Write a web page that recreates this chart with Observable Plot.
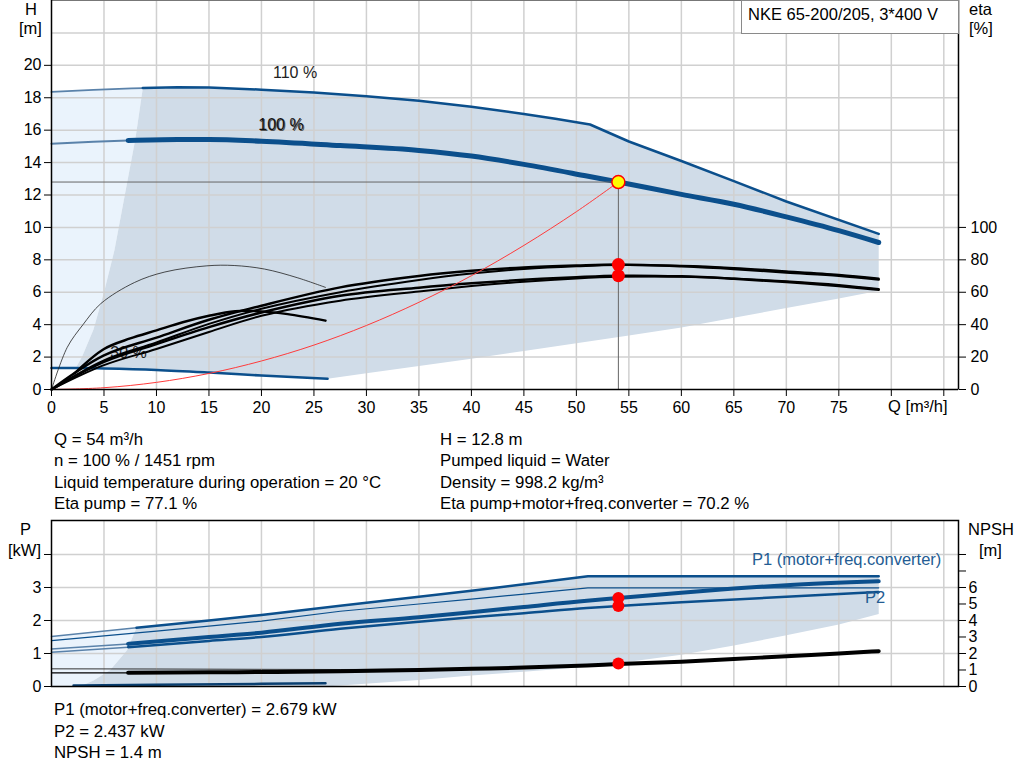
<!DOCTYPE html>
<html><head><meta charset="utf-8">
<script src="https://cdn.jsdelivr.net/npm/d3@7"></script>
<script src="https://cdn.jsdelivr.net/npm/@observablehq/plot@0.6"></script>
<style>
body{margin:0;background:#fff;font-family:"Liberation Sans",Arial,sans-serif;}
#wrap{position:relative;width:1024px;height:781px;overflow:hidden;background:#fff;}
.t{position:absolute;color:#000;white-space:nowrap;line-height:1;}
.plot{position:absolute;left:0;}
.legbox{position:absolute;left:741px;top:0;width:216px;height:32px;border:1px solid #8a8a8a;background:#fff;box-sizing:content-box;}
</style></head><body><div id="wrap"></div>
<script>
// ---------- tick values ----------
const Q_TICKS = [0,5,10,15,20,25,30,35,40,45,50,55,60,65,70,75,80,85];
const Q_GRID = [5,10,15,20,25,30,35,40,45,50,55,60,65,70,75,80,85];
const H_TICKS = [0,2,4,6,8,10,12,14,16,18,20];
const H_GRID = [2,4,6,8,10,12,14,16,18,20,22];
const ETA_TICKS = [0,20,40,60,80,100];
const P_TICKS = [0,1,2,3,4];
const P_GRID = [1,2,3,4];
const NPSH_TICKS = [0,1,2,3,4,5,6,7,8];

// ---------- operating point ----------
const opQ = 54, opH = 12.8, opEtaPump = 77.1, opEtaTot = 70.2, opP1 = 2.679, opP2 = 2.437, opNPSH = 1.4;

// ---------- head curves [Q m3/h, H m] ----------
const head110 = [[0,18.36],[4,18.48],[8.7,18.6],[12,18.65],[15,18.63],[20,18.5],[25,18.33],[30,18.1],[35,17.82],[40,17.45],[45,17.0],[48,16.7],[51.3,16.35],[55,15.3],[60,14.1],[65,12.86],[70,11.6],[78.8,9.6]];
const head100 = [[0,15.16],[4,15.28],[7.3,15.36],[12,15.42],[15,15.42],[20,15.32],[27.5,15.05],[35,14.75],[40,14.4],[45,13.89],[51,13.17],[54,12.8],[60,12.04],[65,11.43],[70,10.65],[75,9.8],[78.8,9.07]];
const head30 = [[0,1.33],[2.3,1.33],[5,1.3],[10,1.21],[15,1.05],[20,0.86],[26.3,0.66]];
const minFlowH = [[2.3,1.33],[2.9,2],[4,3.7],[5,6],[6,8.6],[7.1,12.4],[8,15.5],[8.7,18.6]];
const lowerH = [[26.3,0.66],[30,1.0],[35,1.45],[40,1.9],[45,2.38],[50,2.85],[55,3.33],[60,3.83],[65,4.42],[70,5.03],[75,5.62],[78.8,6.09]];
const systemCurve = [[0,0],[5,0.11],[10,0.44],[15,0.99],[20,1.76],[25,2.74],[30,3.95],[35,5.38],[40,7.02],[45,8.89],[50,10.97],[54,12.8]];

// ---------- efficiency curves [Q m3/h, eta %] ----------
const etaPumpA = [[0,0],[5,21],[10,32],[15,43],[20,51.7],[27.5,63],[35,70],[40,73.2],[45,75.3],[50,76.5],[54,77.1],[60,76],[65,74.4],[70,72.2],[75,70.2],[78.8,67.8]];
const etaPumpB = [[0,0],[5,18],[10,29],[15,40.5],[20,49.8],[27.5,60],[35,67.5],[40,71.5],[45,74.3],[50,76],[54,76.8],[60,76.3],[65,75],[70,73],[75,70.8],[78.8,68.5]];
const etaTotC = [[0,0],[5,17],[10,28],[15,38.5],[20,47.5],[27.5,57.8],[35,62.8],[40,65.5],[45,67.7],[50,69.3],[54,70.2],[60,69.8],[65,68.3],[70,66.3],[75,63.8],[78.8,61.5]];
const etaTotD = [[0,0],[5,15],[10,25],[15,35.5],[20,45.5],[27.5,54.8],[35,60.5],[40,63.8],[45,66.5],[50,68.5],[54,69.5],[60,69.6],[65,68.5],[70,66.8],[75,64.5],[78.8,62]];
const etaPump30 = [[0,0],[1.5,26],[3,40],[4.7,53],[7.9,66],[10.8,72.5],[14.8,76.3],[17.4,76.5],[20.3,74.3],[23.4,69],[26.1,63]];
const etaTot30 = [[2.2,10],[5,25],[7.5,31.5],[10,36.5],[12.5,41.5],[15,45.5],[17.5,48.3],[20,48.2],[22.5,46.5],[26.1,42.5]];

// ---------- power curves [Q m3/h, P kW] ----------
const p1_110 = [[0,1.515],[8.1,1.78],[15,2.0],[20,2.17],[27.5,2.45],[35,2.72],[40,2.9],[45,3.1],[51.1,3.34],[60,3.34],[70,3.34],[78.8,3.34]];
const p2_110 = [[0,1.39],[10,1.68],[20,1.98],[27.5,2.28],[35,2.5],[40,2.65],[45,2.8],[51.1,2.99],[60,2.99],[70,2.99],[78.8,2.99]];
const p1_100 = [[0,1.14],[7.3,1.29],[15,1.5],[20,1.63],[27.5,1.9],[35,2.1],[40,2.25],[45,2.41],[51,2.6],[54,2.679],[60,2.84],[65,2.97],[70,3.07],[78.8,3.19]];
const p2_100 = [[0,1.04],[7.3,1.19],[15,1.38],[20,1.5],[27.5,1.75],[35,1.96],[40,2.1],[45,2.22],[51,2.38],[54,2.437],[60,2.55],[70,2.72],[78.8,2.86]];
const p_30 = [[2.1,0.03],[10,0.05],[20,0.08],[26.1,0.1]];
const minFlowP = [[2.7,0],[4,0.18],[5.6,0.5],[7.2,1.1],[8.1,1.78]];
const lowerP = [[26,0],[27.5,0.03],[35,0.2],[40,0.33],[45,0.45],[51,0.6],[55,0.75],[60,0.96],[65,1.24],[70,1.55],[75,1.88],[78.8,2.2]];

// ---------- NPSH curves [Q m3/h, NPSH m] ----------
const npsh100 = [[0,0.82],[7.3,0.83],[15,0.86],[20,0.88],[27.5,0.92],[35,1.0],[40,1.07],[45,1.15],[51,1.28],[54,1.36],[60,1.5],[65,1.66],[70,1.84],[75,2.0],[78.8,2.14]];
const npsh110 = [[0,1.07],[10,1.06],[20,1.04],[27.5,1.03],[35,1.05],[40,1.1],[45,1.17],[51,1.29],[60,1.5],[70,1.85],[78.8,2.15]];

// ---------- texts ----------
const title = "NKE 65-200/205, 3*400 V";
const infoLeft = ["Q = 54 m³/h","n = 100 % / 1451 rpm","Liquid temperature during operation = 20 °C","Eta pump = 77.1 %"];
const infoRight = ["H = 12.8 m","Pumped liquid = Water","Density = 998.2 kg/m³","Eta pump+motor+freq.converter = 70.2 %"];
const infoBottom = ["P1 (motor+freq.converter) = 2.679 kW","P2 = 2.437 kW","NPSH = 1.4 m"];
const curveLabels = [{t:"110 %", q:21.1, h:19.55},{t:"30 %", q:5.6, h:2.28}];
const label100 = [{t:"100 %", q:19.7, h:16.3}];

// ---------- styling ----------
const BLUE = "#0b4f8c", THIN = "#5a82aa", DARK = "#d0dce8", LIGHT = "#eaf3fc", GRID = "#d0d0d0";
const X = d => d[0], Y = d => d[1];
const font = {fontSize:"16px", fontFamily:"'Liberation Sans', Arial, sans-serif", color:"black", background:"transparent", overflow:"visible"};
const qDomain = [0, 86.4];
const smooth = "monotone-x";
const thick = (arr, lim) => arr.filter(d => d[0] >= lim);
const thin = (arr, lim) => arr.filter(d => d[0] <= lim);

// shaded regions (built from the boundary arrays)
const darkTop = [...minFlowH, ...head110.filter(d=>d[0]>8.7), ...lowerH.slice().reverse(), ...head30.filter(d=>d[0]>2.3 && d[0]<26.3).reverse()];
const lightTop = [[0,1.33], ...thin(head110, 8.7), ...minFlowH.slice().reverse()];
const darkBot = [...minFlowP, ...p1_110.filter(d=>d[0]>8.1), ...lowerP.slice().reverse()];
const lightBot = [[0,0], ...thin(p1_110, 8.1), ...minFlowP.slice().reverse()];

const eta = d => d[1]/10;   // eta % on the H scale (100 % = 10 m)
const np = d => d[1]/2;     // NPSH m on the P scale (6 m = 3 kW)

const topPlot = Plot.plot({
  width:1024, height:420, marginLeft:51, marginRight:66, marginTop:0, marginBottom:31,
  x:{domain:qDomain}, y:{domain:[0,24]}, style:font,
  marks:[
    Plot.line(lightTop,{x:X,y:Y,fill:LIGHT,stroke:"none"}),
    Plot.line(darkTop,{x:X,y:Y,fill:DARK,stroke:"none"}),
    Plot.gridX(Q_GRID,{stroke:GRID,strokeOpacity:1,strokeWidth:1.5}),
    Plot.gridY(H_GRID,{stroke:GRID,strokeOpacity:1,strokeWidth:1.5}),
    Plot.frame({stroke:"#777"}),
    // head curves
    Plot.line(thin(head110,8.7),{x:X,y:Y,stroke:THIN,strokeWidth:1.8,curve:smooth}),
    Plot.line(thick(head110,8.7),{x:X,y:Y,stroke:BLUE,strokeWidth:2.5,curve:"linear"}),
    Plot.line(thin(head100,7.3),{x:X,y:Y,stroke:THIN,strokeWidth:2,curve:smooth}),
    Plot.line(thick(head100,7.3),{x:X,y:Y,stroke:BLUE,strokeWidth:5,curve:smooth}),
    Plot.line(head30,{x:X,y:Y,stroke:BLUE,strokeWidth:2.5,curve:smooth}),
    // labels
    Plot.text(curveLabels,{x:"q",y:"h",text:"t",textAnchor:"start",fill:"#222",fontSize:16}),
    Plot.text(label100,{x:"q",y:"h",text:"t",textAnchor:"start",fill:"#555",fontSize:16,dx:1,dy:1}),
    Plot.text(label100,{x:"q",y:"h",text:"t",textAnchor:"start",fill:"#111",fontSize:16}),
    // operating point guide lines
    Plot.ruleY([opH],{x1:0,x2:opQ,stroke:"#666",strokeWidth:1}),
    Plot.ruleX([opQ],{y1:0,y2:opH,stroke:"#666",strokeWidth:1}),
    // efficiency curves
    Plot.line(etaPump30,{x:X,y:eta,stroke:"#222",strokeWidth:0.8,curve:"catmull-rom"}),
    Plot.line(etaTot30,{x:X,y:eta,stroke:"#000",strokeWidth:2.5,curve:"catmull-rom"}),
    Plot.line(etaTotD,{x:X,y:eta,stroke:"#000",strokeWidth:2,curve:"catmull-rom"}),
    Plot.line(etaTotC,{x:X,y:eta,stroke:"#000",strokeWidth:2.5,curve:"catmull-rom"}),
    Plot.line(etaPumpB,{x:X,y:eta,stroke:"#000",strokeWidth:2,curve:"catmull-rom"}),
    Plot.line(etaPumpA,{x:X,y:eta,stroke:"#000",strokeWidth:2.5,curve:"catmull-rom"}),
    // system curve
    Plot.line(systemCurve,{x:X,y:Y,stroke:"#ff3b3b",strokeWidth:1,curve:"catmull-rom"}),
    // markers
    Plot.dot([[opQ,opEtaPump/10],[opQ,opEtaTot/10]],{x:X,y:Y,r:6.5,fill:"#ff0000",stroke:"none"}),
    Plot.dot([[opQ,opH]],{x:X,y:Y,r:6.5,fill:"#ffff00",stroke:"#ff0000",strokeWidth:1.5}),
    // axes
    Plot.ruleX([0],{stroke:"#000",strokeWidth:1.5}),
    Plot.ruleX([qDomain[1]],{stroke:"#000",strokeWidth:1.5}),
    Plot.ruleY([0],{stroke:"#000",strokeWidth:1.5}),
    Plot.axisX(Q_TICKS,{tickSize:7,tickPadding:5,tickFormat:d=>d<=75?String(d):"",label:null}),
    Plot.axisY(H_TICKS,{anchor:"left",tickSize:7,tickPadding:3,label:null}),
    Plot.axisY(ETA_TICKS.map(e=>e/10),{anchor:"right",tickSize:7,tickPadding:5,tickFormat:d=>String(Math.round(d*10)),label:null})
  ]
});

const botPlot = Plot.plot({
  width:1024, height:186, marginLeft:51, marginRight:66, marginTop:10, marginBottom:10,
  x:{domain:qDomain, axis:null}, y:{domain:[0,5.03]}, style:font,
  marks:[
    Plot.line(lightBot,{x:X,y:Y,fill:LIGHT,stroke:"none"}),
    Plot.line(darkBot,{x:X,y:Y,fill:DARK,stroke:"none"}),
    Plot.gridX(Q_GRID,{stroke:GRID,strokeOpacity:1,strokeWidth:1.5}),
    Plot.gridY(P_GRID,{stroke:GRID,strokeOpacity:1,strokeWidth:1.5}),
    // power curves
    Plot.line(thin(p1_110,8.1),{x:X,y:Y,stroke:THIN,strokeWidth:1.5,curve:"linear"}),
    Plot.line(thick(p1_110,8.1),{x:X,y:Y,stroke:BLUE,strokeWidth:2.5,curve:"linear"}),
    Plot.line(p2_110,{x:X,y:Y,stroke:BLUE,strokeWidth:1.2,curve:"linear"}),
    Plot.line(thin(p1_100,7.3),{x:X,y:Y,stroke:THIN,strokeWidth:1.5,curve:smooth}),
    Plot.line(thick(p1_100,7.3),{x:X,y:Y,stroke:BLUE,strokeWidth:4,curve:smooth}),
    Plot.line(thin(p2_100,7.3),{x:X,y:Y,stroke:THIN,strokeWidth:1.5,curve:smooth}),
    Plot.line(thick(p2_100,7.3),{x:X,y:Y,stroke:BLUE,strokeWidth:2.5,curve:smooth}),
    Plot.line(p_30,{x:X,y:Y,stroke:"#0a3f70",strokeWidth:2.5,curve:smooth}),
    // NPSH curves
    Plot.line(npsh110,{x:X,y:np,stroke:"#333",strokeWidth:1,curve:smooth}),
    Plot.line(thin(npsh100,7.3),{x:X,y:np,stroke:"#000",strokeWidth:1.2,curve:smooth}),
    Plot.line(thick(npsh100,7.3),{x:X,y:np,stroke:"#000",strokeWidth:4,curve:smooth}),
    // markers
    Plot.dot([[opQ,opP1],[opQ,opP2],[opQ,opNPSH/2]],{x:X,y:Y,r:6,fill:"#ff0000",stroke:"none"}),
    Plot.frame({stroke:"#000",strokeWidth:1.5}),
    Plot.axisY(P_TICKS,{anchor:"left",tickSize:7,tickPadding:3,tickFormat:d=>d<=3?String(d):"",label:null}),
    Plot.axisY(NPSH_TICKS.map(n=>n/2),{anchor:"right",tickSize:7,tickPadding:3,tickFormat:d=>d*2<=6?String(Math.round(d*2)):"",label:null})
  ]
});

// ---------- assemble ----------
const wrap = document.getElementById("wrap");
topPlot.classList.add("plot"); topPlot.style.top = "0px"; topPlot.style.position="absolute";
botPlot.classList.add("plot"); botPlot.style.top = "510px"; botPlot.style.position="absolute";
wrap.appendChild(topPlot);
wrap.appendChild(botPlot);

const legend = document.createElement("div");
legend.className = "legbox";
wrap.appendChild(legend);

function txt(s, left, baseline, fs, extra){
  const d = document.createElement("div");
  d.className = "t";
  d.textContent = s;
  d.style.fontSize = fs + "px";
  d.style.left = left + "px";
  d.style.top = (baseline - 0.8305*fs) + "px";
  if (extra) Object.assign(d.style, extra);
  wrap.appendChild(d);
  return d;
}
const FS = 16.8;
txt(title, 748, 20, 16.5);
txt("H", 25, 15, 16.5); txt("[m]", 19, 34, 16.5);
txt("eta", 969, 15, 16.5); txt("[%]", 969, 34, 16.5);
txt("Q [m³/h]", 888, 412, 16.5);
txt("P", 20, 535, 16.5); txt("[kW]", 8, 556, 16.5);
txt("NPSH", 968, 535, 16.5); txt("[m]", 979, 556, 16.5);
txt("P1 (motor+freq.converter)", 752, 565, 16.5, {color:"#245c93"});
txt("P2", 865, 603, 16.5, {color:"#245c93"});
infoLeft.forEach((s,i)=>txt(s, 54, 445.7 + i*21.5, FS));
infoRight.forEach((s,i)=>txt(s, 440, 445.7 + i*21.5, FS));
infoBottom.forEach((s,i)=>txt(s, 54, 716 + i*21.5, FS));
</script></body></html>
